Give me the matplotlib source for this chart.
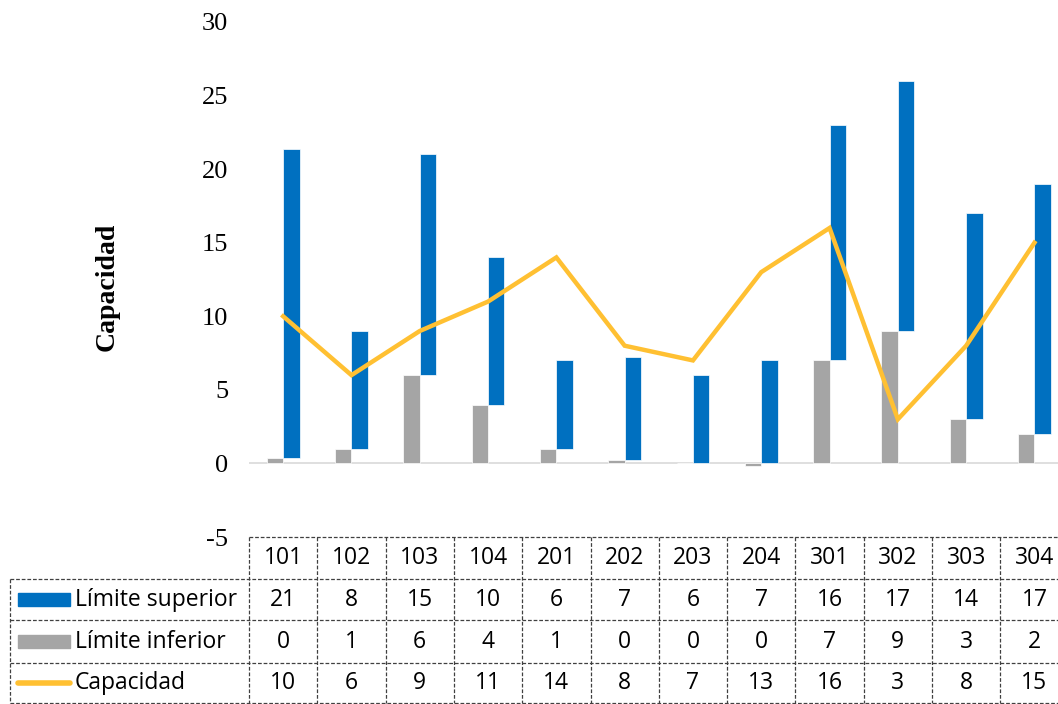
import numpy as np
import matplotlib.pyplot as plt
from matplotlib.patches import Rectangle

# datos
habitaciones = ["101", "102", "103", "104", "201", "202", "203", "204", "301", "302", "303", "304"]
lim_sup = [21, 8, 15, 10, 6, 7, 6, 7, 16, 17, 14, 17]
lim_inf = [0.4, 1, 6, 4, 1, 0.2, 0, -0.2, 7, 9, 3, 2]
capacidad = [10, 6, 9, 11, 14, 8, 7, 13, 16, 3, 8, 15]

AZUL = "#0070C0"
GRIS = "#A5A5A5"
AMAR = "#FFC032"
W, H = 1058, 704

plt.rcParams["axes.unicode_minus"] = False

fig = plt.figure(figsize=(W / 100, H / 100), dpi=100)
left_px, colw = 249, 68.3
right_px = left_px + 12 * colw
ax = fig.add_axes([left_px / W, (H - 537) / H, (right_px - left_px) / W, (537 - 22) / H])

x = np.arange(len(habitaciones))
inf = np.array(lim_inf)
bw = 0.24
ax.bar(x - bw / 2, inf, width=bw, color=GRIS, edgecolor="white", linewidth=0.5)
ax.bar(x + bw / 2, lim_sup, width=bw, bottom=np.maximum(inf, 0), color=AZUL,
       edgecolor="white", linewidth=0.5)
ax.plot(x, capacidad, color=AMAR, lw=3.2, solid_joinstyle="miter")

ax.set_xlim(-0.5, len(habitaciones) - 0.5)
ax.set_ylim(-5, 30)
ax.set_yticks(range(-5, 31, 5))
ax.set_xticks([])
for s in ["top", "right", "left", "bottom"]:
    ax.spines[s].set_visible(False)
ax.axhline(0, color="#D9D9D9", lw=1.2, zorder=0.5)
ax.tick_params(axis="y", length=0, pad=15, labelsize=19)
for t in ax.get_yticklabels():
    t.set_fontfamily("Liberation Serif")
ax.set_ylabel("Capacidad", fontfamily="Liberation Serif", fontweight="bold", fontsize=20)
ax.yaxis.set_label_coords((120 - left_px) / (right_px - left_px), 0.485)

# tabla de datos
tx = fig.add_axes([0, 0, 1, 1])
tx.set_xlim(0, W)
tx.set_ylim(H, 0)
tx.axis("off")
filas = [537, 579, 620, 663, 703]
lab_left = 10
lk = dict(color="#404040", lw=0.9, ls=(0, (3, 1.5)))
edges = [left_px + i * colw for i in range(13)]
# horizontales
tx.plot([left_px, W], [filas[0]] * 2, **lk)
for yy in filas[1:]:
    tx.plot([lab_left, W], [yy] * 2, **lk)
# verticales
for xe in edges:
    tx.plot([xe, xe], [filas[0], filas[-1]], **lk)
tx.plot([lab_left, lab_left], [filas[1], filas[-1]], **lk)

fuente = "Open Sans"
fs = 16.5
for i, h in enumerate(habitaciones):
    xc = left_px + (i + 0.5) * colw
    tx.text(xc, (filas[0] + filas[1]) / 2, h, ha="center", va="center", fontsize=fs, fontfamily=fuente)
    tx.text(xc, (filas[1] + filas[2]) / 2, str(lim_sup[i]), ha="center", va="center", fontsize=fs, fontfamily=fuente)
    tx.text(xc, (filas[2] + filas[3]) / 2, str(int(round(lim_inf[i]))), ha="center", va="center", fontsize=fs, fontfamily=fuente)
    tx.text(xc, (filas[3] + filas[4]) / 2, str(capacidad[i]), ha="center", va="center", fontsize=fs, fontfamily=fuente)

nombres = ["Límite superior", "Límite inferior", "Capacidad"]
for j, nom in enumerate(nombres):
    yc = (filas[j + 1] + filas[j + 2]) / 2
    if j < 2:
        tx.add_patch(Rectangle((18, yc - 7), 52, 13, color=AZUL if j == 0 else GRIS))
    else:
        tx.plot([18, 70], [yc, yc], color=AMAR, lw=4, solid_capstyle="round")
    tx.text(75, yc, nom, ha="left", va="center", fontsize=fs, fontfamily=fuente)

fig.savefig("out.png", dpi=100)
